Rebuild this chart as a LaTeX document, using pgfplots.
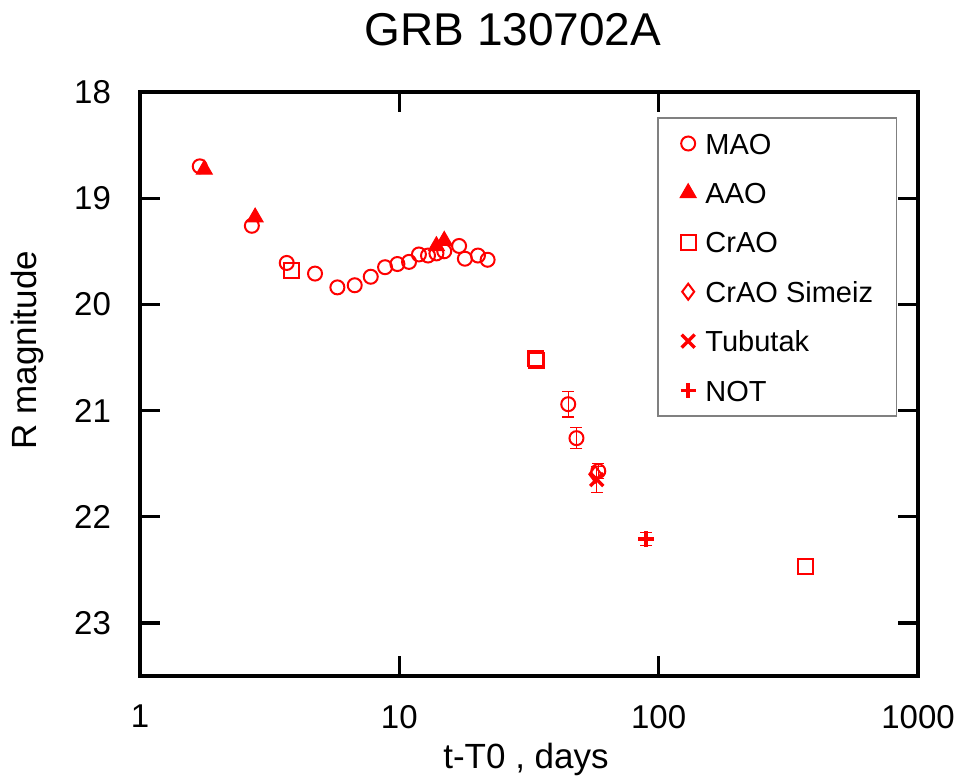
\documentclass[border=0pt]{standalone}
\usepackage{fontspec}
\setmainfont{Liberation Sans}
\usepackage{pgfplots}
\pgfplotsset{compat=1.18}
\begin{document}
\begin{tikzpicture}
\useasboundingbox (-70pt,-52.5pt) rectangle (412pt,338pt);
\begin{axis}[
  at={(0pt,0pt)}, anchor=south west,
  scale only axis, width=389pt, height=292pt,
  xmode=log, xmin=1, xmax=1000,
  xtick={1,10,100,1000}, xticklabels={1,10,100,1000}, xminorticks=false,
  y dir=reverse, ymin=18, ymax=23.5, ytick={18,19,20,21,22,23},
  axis line style={line width=1.6pt},
  every tick/.style={black, line width=1.6pt},
  major tick length=10pt, tick align=inside,
  /pgf/number format/assume math mode=true,
  tick label style={font=\fontsize{16.5}{19}\selectfont},
  xticklabel style={yshift=-11pt},
  yticklabel style={xshift=-11pt},
  xlabel={t-T0 , days},
  xlabel style={at={(rel axis cs:0.5,0)}, anchor=base, yshift=-46pt, xshift=-1.5pt, font=\fontsize{17.5}{21}\selectfont},
  ylabel={R magnitude},
  ylabel style={at={(rel axis cs:-0.1446,0.558)}, anchor=center, font=\fontsize{17.5}{21}\selectfont},
  title={GRB 130702A},
  title style={at={(rel axis cs:0.4794,1)}, anchor=base, yshift=17.5pt, font=\fontsize{23}{27}\selectfont},
  legend cell align=left,
  legend style={at={(rel axis cs:0.665,0.9567)}, anchor=north west, draw=gray, line width=0.7pt, fill=white,
    inner xsep=5pt, inner ysep=5.5pt, row sep=10.2pt, column sep=1.3pt,
    font=\fontsize{14.5}{17}\selectfont,
    nodes={inner sep=2pt, text height=10.5pt, text depth=0pt}},
  every axis plot post/.append style={legend image code/.code={\draw[##1] plot coordinates {(0pt,0pt)}; \path (-9.7pt,0pt) (5pt,0pt);}},
]
% MAO
\addplot[only marks, red, mark=o, mark size=3.5pt, mark options={line width=1pt}] coordinates {
 (1.70,18.70)(2.70,19.26)(3.68,19.61)(4.73,19.71)(5.77,19.84)(6.73,19.82)(7.76,19.74)(8.81,19.65)(9.83,19.62)
 (10.9,19.60)(11.9,19.53)(12.9,19.54)(13.9,19.52)(14.9,19.50)(17.0,19.45)(17.9,19.57)(20.1,19.54)(21.9,19.58)
};
\addlegendentry{MAO}
% AAO
\addplot[only marks, red, mark=triangle*, mark size=4.6pt, mark options={fill=red, draw=red, line width=0.5pt}] coordinates {
 (1.77,18.73)(2.78,19.18)(13.9,19.45)(14.9,19.40)
};
\addlegendentry{AAO}
% CrAO
\addplot[only marks, red, mark=square, mark size=3.7pt, mark options={line width=1pt}] coordinates {
 (3.85,19.68)(33.4,20.51)(33.7,20.53)(367,22.47)
};
\addlegendentry{CrAO}
% CrAO Simeiz
\addplot[only marks, red, mark=diamond, mark size=4pt, mark options={line width=1pt}] coordinates {
 (57.0,21.60)
};
\addlegendentry{CrAO Simeiz\hspace*{4.7pt}}
% Tubutak
\addplot[only marks, red, mark=x, mark size=4.6pt, mark options={line width=1.7pt},
  error bars/.cd, y dir=both, y explicit, error bar style={red, line width=0.6pt},
  error mark options={red, rotate=90, mark size=3pt, line width=0.6pt}] coordinates {
 (57.7,21.65) +- (0,0.12)
};
\addlegendentry{Tubutak}
% NOT
\addplot[only marks, red, mark=+, mark size=3.8pt, mark options={line width=1.8pt},
  error bars/.cd, y dir=both, y explicit, error bar style={red, line width=0.6pt},
  error mark options={red, rotate=90, mark size=3pt, line width=0.6pt}] coordinates {
 (89.4,22.21) +- (0,0.06)
};
\addlegendentry{NOT}
% MAO with errors
\addplot[forget plot, only marks, red, mark=o, mark size=3.5pt, mark options={line width=1pt},
  error bars/.cd, y dir=both, y explicit, error bar style={red, line width=0.6pt},
  error mark options={red, rotate=90, mark size=3pt, line width=0.6pt}] coordinates {
 (44.8,20.94) +- (0,0.12)
 (48.2,21.26) +- (0,0.10)
 (58.5,21.57) +- (0,0.07)
};
\end{axis}
\end{tikzpicture}
\end{document}
